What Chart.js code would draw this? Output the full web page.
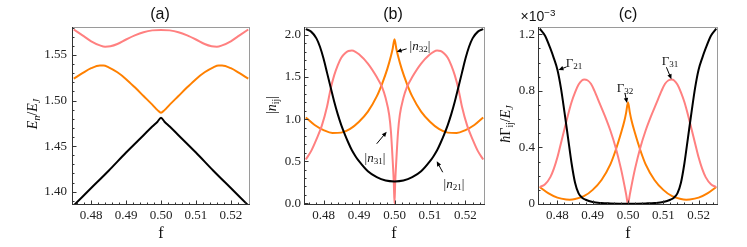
<!DOCTYPE html>
<html><head><meta charset="utf-8">
<script src="https://cdn.jsdelivr.net/npm/chart.js@4.4.0/dist/chart.umd.min.js"></script>
<style>
html,body{margin:0;padding:0;background:#fff;}
#wrap{position:relative;width:747px;height:247px;overflow:hidden;background:#fff;}
canvas{position:absolute;left:0;top:0;}
.t{position:absolute;font-family:"Liberation Serif","Times New Roman",serif;color:#111;white-space:nowrap;line-height:1;transform:translate(-50%,-50%);}
.rot{transform:translate(-50%,-50%) rotate(-90deg);}
.s{font-family:"Liberation Sans",Arial,sans-serif;}
sub{font-size:70%;vertical-align:-0.3em;line-height:0;}
sup{font-size:70%;vertical-align:0.55em;line-height:0;}
</style></head>
<body>
<div id="wrap">
<canvas id="ca" width="747" height="247"></canvas>
<canvas id="cb" width="747" height="247"></canvas>
<canvas id="cc" width="747" height="247"></canvas>

<div class="t s" style="left:160px;top:14px;font-size:16px">(a)</div>
<div class="t s" style="left:393px;top:14px;font-size:16px">(b)</div>
<div class="t s" style="left:628px;top:14px;font-size:16px">(c)</div>

<div class="t" style="left:161px;top:233px;font-size:16px">f</div>
<div class="t" style="left:394px;top:233px;font-size:16px">f</div>
<div class="t" style="left:628px;top:233px;font-size:16px">f</div>

<div class="t rot" style="left:33px;top:114px;font-size:14px"><i>E<sub>n</sub></i>/<i>E<sub>J</sub></i></div>
<div class="t rot" style="left:272px;top:105px;font-size:14px">|<i>n</i><sub>ij</sub>|</div>
<div class="t rot" style="left:506px;top:124px;font-size:14px"><i>ħ</i>Γ<sub>ij</sub>/<i>E<sub>J</sub></i></div>

<div class="t s" style="left:538px;top:16px;font-size:14px">×10<sup>−3</sup></div>

<div class="t" style="left:420px;top:45px;font-size:13px">|<i>n</i><sub>32</sub>|</div>
<div class="t" style="left:375px;top:157px;font-size:13px">|<i>n</i><sub>31</sub>|</div>
<div class="t" style="left:454px;top:183px;font-size:13px">|<i>n</i><sub>21</sub>|</div>

<div class="t" style="left:574px;top:62px;font-size:13px">Γ<sub>21</sub></div>
<div class="t" style="left:625px;top:87px;font-size:13px">Γ<sub>32</sub></div>
<div class="t" style="left:670px;top:60px;font-size:13px">Γ<sub>31</sub></div>
</div>

<script>
// ---------- shared ----------
const fMin = 0.4745, fMax = 0.5255;
const xTickVals = [0.48, 0.49, 0.50, 0.51, 0.52];

// ---------- panel (a): energies E_n/E_J ----------
const aF1 = [0.475,0.48,0.485,0.49,0.495,0.4975,0.499,0.5,0.501,0.5025,0.505,0.51,0.515,0.52,0.525];
const aE1 = [1.385,1.404,1.423,1.443,1.462,1.4715,1.4768,1.481,1.4768,1.4715,1.462,1.443,1.423,1.404,1.385];
const aF2 = [0.475,0.4775,0.48,0.4825,0.4835,0.485,0.4875,0.49,0.4925,0.495,0.4975,0.499,0.5,0.501,0.5025,0.505,0.5075,0.51,0.5125,0.515,0.5165,0.5175,0.52,0.5225,0.525];
const aE2 = [1.524,1.530,1.5355,1.5385,1.5385,1.5365,1.531,1.5235,1.5145,1.505,1.4955,1.4895,1.4865,1.4895,1.4955,1.505,1.5145,1.5235,1.531,1.5365,1.5385,1.5385,1.5355,1.530,1.524];
const aF3 = [0.475,0.4775,0.48,0.4825,0.484,0.4855,0.4875,0.49,0.4925,0.495,0.4975,0.5,0.5025,0.505,0.5075,0.51,0.5125,0.5145,0.516,0.5175,0.52,0.5225,0.525];
const aE3 = [1.578,1.5715,1.565,1.5605,1.559,1.5595,1.562,1.567,1.5715,1.575,1.577,1.5775,1.577,1.575,1.5715,1.567,1.562,1.5595,1.559,1.5605,1.565,1.5715,1.578];
const aYTicks = [1.40, 1.45, 1.50, 1.55];

// ---------- panel (b): |n_ij| ----------
const bF21 = [0.475,0.4765,0.478,0.479,0.48,0.481,0.482,0.483,0.484,0.485,0.486,0.487,0.488,0.489,0.49,0.4925,0.495,0.4975,0.5,0.5025,0.505,0.5075,0.51,0.511,0.512,0.513,0.514,0.515,0.516,0.517,0.518,0.519,0.52,0.521,0.522,0.5235,0.525];
const bN21 = [2.07,2.04,1.96,1.86,1.72,1.55,1.38,1.21,1.06,0.93,0.82,0.72,0.63,0.56,0.50,0.38,0.31,0.27,0.26,0.27,0.31,0.38,0.50,0.56,0.63,0.72,0.82,0.93,1.06,1.21,1.38,1.55,1.72,1.86,1.96,2.04,2.07];
const bF32 = [0.475,0.4775,0.48,0.4825,0.485,0.4875,0.49,0.4925,0.495,0.4965,0.498,0.499,0.4995,0.5,0.5005,0.501,0.502,0.5035,0.505,0.5075,0.51,0.5125,0.515,0.5175,0.52,0.5225,0.525];
const bN32 = [1.02,0.93,0.87,0.835,0.84,0.885,0.97,1.09,1.27,1.42,1.60,1.75,1.84,1.95,1.84,1.75,1.60,1.42,1.27,1.09,0.97,0.885,0.84,0.835,0.87,0.93,1.02];
const bF31 = [0.475,0.4765,0.478,0.4795,0.481,0.482,0.483,0.484,0.485,0.486,0.487,0.488,0.489,0.49,0.4925,0.495,0.4965,0.4975,0.4985,0.499,0.4995,0.4998,0.5,0.5002,0.5005,0.501,0.5015,0.5025,0.5035,0.505,0.5075,0.51,0.511,0.512,0.513,0.514,0.515,0.516,0.517,0.518,0.519,0.5205,0.522,0.5235,0.525];
const bN31 = [0.52,0.62,0.76,0.92,1.15,1.36,1.52,1.64,1.73,1.78,1.81,1.815,1.80,1.77,1.66,1.50,1.38,1.25,1.05,0.85,0.50,0.25,0.0,0.25,0.50,0.85,1.05,1.25,1.38,1.50,1.66,1.77,1.80,1.815,1.81,1.78,1.73,1.64,1.52,1.36,1.15,0.92,0.76,0.62,0.52];
const bYTicks = [0.0, 0.5, 1.0, 1.5, 2.0];

// ---------- panel (c): hbar*Gamma_ij/E_J (x1e-3) ----------
const cF21 = [0.475,0.4765,0.478,0.479,0.48,0.481,0.482,0.483,0.484,0.485,0.486,0.487,0.488,0.49,0.4925,0.495,0.4975,0.5,0.5025,0.505,0.5075,0.51,0.512,0.513,0.514,0.515,0.516,0.517,0.518,0.519,0.52,0.521,0.522,0.5235,0.525];
const cG21 = [1.24,1.19,1.10,1.03,0.95,0.82,0.65,0.47,0.29,0.15,0.075,0.045,0.03,0.014,0.007,0.004,0.002,0.001,0.002,0.004,0.007,0.014,0.03,0.045,0.075,0.15,0.29,0.47,0.65,0.82,0.95,1.03,1.10,1.19,1.24];
const cF32 = [0.475,0.4775,0.48,0.4825,0.4835,0.485,0.4875,0.49,0.4925,0.495,0.4965,0.498,0.499,0.4995,0.5,0.5005,0.501,0.502,0.5035,0.505,0.5075,0.51,0.5125,0.515,0.5165,0.5175,0.52,0.5225,0.525];
const cG32 = [0.12,0.075,0.045,0.032,0.031,0.035,0.055,0.10,0.17,0.28,0.38,0.50,0.59,0.65,0.72,0.65,0.59,0.50,0.38,0.28,0.17,0.10,0.055,0.035,0.031,0.032,0.045,0.075,0.12];
const cF31 = [0.475,0.4765,0.478,0.479,0.48,0.481,0.482,0.483,0.484,0.485,0.486,0.487,0.4876,0.4885,0.4895,0.4905,0.492,0.4935,0.495,0.4965,0.498,0.499,0.4995,0.5,0.5005,0.501,0.502,0.5035,0.505,0.5065,0.508,0.5095,0.5105,0.5115,0.5124,0.513,0.514,0.515,0.516,0.517,0.518,0.519,0.52,0.521,0.522,0.5235,0.525];
const cG31 = [0.12,0.14,0.19,0.25,0.33,0.43,0.53,0.63,0.72,0.79,0.845,0.875,0.88,0.875,0.85,0.80,0.71,0.62,0.52,0.40,0.25,0.13,0.065,0.0,0.065,0.13,0.25,0.40,0.52,0.62,0.71,0.80,0.85,0.875,0.88,0.875,0.845,0.79,0.72,0.63,0.53,0.43,0.33,0.25,0.19,0.14,0.12];
const cYTicks = [0, 0.4, 0.8, 1.2];

// ---------- colours ----------
const BLACK = '#000000', ORANGE = '#FF8000', PINK = '#FF8080';

function series(xs, ys, color) {
  return {
    data: xs.map((x, i) => ({x: x, y: ys[i]})),
    borderColor: color, borderWidth: 2, pointRadius: 0,
    cubicInterpolationMode: 'monotone', fill: false, clip: 0
  };
}

function drawArrow(ctx, x1, y1, x2, y2) {
  const ang = Math.atan2(y2 - y1, x2 - x1);
  const hl = 5, hw = 2.2;
  ctx.beginPath();
  ctx.moveTo(x1, y1);
  ctx.lineTo(x2 - Math.cos(ang) * hl * 0.8, y2 - Math.sin(ang) * hl * 0.8);
  ctx.stroke();
  ctx.beginPath();
  ctx.moveTo(x2, y2);
  ctx.lineTo(x2 - Math.cos(ang) * hl + Math.sin(ang) * hw, y2 - Math.sin(ang) * hl - Math.cos(ang) * hw);
  ctx.lineTo(x2 - Math.cos(ang) * hl - Math.sin(ang) * hw, y2 - Math.sin(ang) * hl + Math.cos(ang) * hw);
  ctx.closePath();
  ctx.fill();
}

function framePlugin(p) {
  return {
    id: 'frame',
    afterDraw(chart) {
      const ctx = chart.ctx, a = chart.chartArea, xs = chart.scales.x, ys = chart.scales.y;
      ctx.save();
      ctx.lineWidth = 1;
      ctx.strokeStyle = '#9a9a9a';
      ctx.beginPath();
      ctx.moveTo(a.left, Math.round(a.top) + 0.5); ctx.lineTo(a.right, Math.round(a.top) + 0.5);
      ctx.moveTo(Math.round(a.right) - 0.5, a.top); ctx.lineTo(Math.round(a.right) - 0.5, a.bottom);
      ctx.stroke();
      ctx.strokeStyle = '#333';
      const L = Math.round(a.left) + 0.5, B = Math.round(a.bottom) - 0.5;
      ctx.beginPath();
      ctx.moveTo(L, a.top); ctx.lineTo(L, a.bottom);
      ctx.moveTo(a.left, B); ctx.lineTo(a.right, B);
      for (let k = 238; k <= 262; k++) {
        const v = k / 500;
        const px = Math.round(xs.getPixelForValue(v)) + 0.5;
        const len = (k % 5 === 0) ? 4 : 2;
        ctx.moveTo(px, B); ctx.lineTo(px, B - len);
      }
      for (let k = p.yMinorFrom; k <= p.yMinorTo; k++) {
        const v = k * p.yMinorStep;
        const py = Math.round(ys.getPixelForValue(v)) + 0.5;
        if (py < a.top + 1 || py > a.bottom - 1) continue;
        const len = (k % p.yMajorEvery === 0) ? 4 : 2;
        ctx.moveTo(L, py); ctx.lineTo(L + len, py);
      }
      ctx.stroke();
      ctx.strokeStyle = '#000'; ctx.fillStyle = '#000'; ctx.lineWidth = 1;
      (p.arrows || []).forEach(ar => {
        const tx = xs.getPixelForValue(ar.f), ty = ys.getPixelForValue(ar.v);
        drawArrow(ctx, tx + ar.dx, ty + ar.dy, tx, ty);
      });
      ctx.restore();
    }
  };
}

function makeChart(id, datasets, o) {
  const W = 747, H = 247;
  const yW = 40, xH = 20;
  return new Chart(document.getElementById(id), {
    type: 'line',
    data: {datasets: datasets},
    options: {
      responsive: false, animation: false, events: [],
      plugins: {legend: {display: false}, tooltip: {enabled: false}, title: {display: false}},
      layout: {padding: {left: o.left - yW, right: W - o.right, top: o.top, bottom: H - o.bottom - xH}},
      scales: {
        x: {
          type: 'linear', min: fMin, max: fMax,
          afterBuildTicks: s => { s.ticks = xTickVals.map(v => ({value: v})); },
          afterFit: s => { s.height = xH; },
          grid: {display: false, drawTicks: false}, border: {display: false},
          ticks: {font: {family: 'Liberation Serif', size: 13}, color: '#222', padding: 3,
                  maxRotation: 0, autoSkip: false, callback: v => Number(v).toFixed(2)}
        },
        y: {
          type: 'linear', min: o.yMin, max: o.yMax,
          afterBuildTicks: s => { s.ticks = o.yTicks.map(v => ({value: v})); },
          afterFit: s => { s.width = yW; },
          grid: {display: false, drawTicks: false}, border: {display: false},
          ticks: {font: {family: 'Liberation Serif', size: 13}, color: '#222', padding: o.yPad,
                  autoSkip: false, callback: o.yFmt}
        }
      }
    },
    plugins: [framePlugin(o)]
  });
}

makeChart('ca', [series(aF1, aE1, BLACK), series(aF2, aE2, ORANGE), series(aF3, aE3, PINK)], {
  left: 72, right: 250, top: 27, bottom: 205,
  yMin: 1.3854, yMax: 1.5807, yTicks: aYTicks, yPad: 5, yFmt: v => Number(v).toFixed(2),
  yMinorStep: 0.01, yMinorFrom: 138, yMinorTo: 158, yMajorEvery: 5, arrows: []
});

makeChart('cb', [series(bF21, bN21, BLACK), series(bF31, bN31, PINK), series(bF32, bN32, ORANGE)], {
  left: 304, right: 485, top: 27, bottom: 205,
  yMin: -0.02, yMax: 2.095, yTicks: bYTicks, yPad: 3, yFmt: v => Number(v).toFixed(1),
  yMinorStep: 0.1, yMinorFrom: 0, yMinorTo: 20, yMajorEvery: 5,
  arrows: [
    {f: 0.5006, v: 1.80, dx: 10, dy: -3},
    {f: 0.4978, v: 0.85, dx: -10, dy: 12},
    {f: 0.5119, v: 0.50, dx: 6, dy: 11}
  ]
});

makeChart('cc', [series(cF21, cG21, BLACK), series(cF31, cG31, PINK), series(cF32, cG32, ORANGE)], {
  left: 538, right: 718, top: 27, bottom: 205,
  yMin: -0.007, yMax: 1.2516, yTicks: cYTicks, yPad: 3, yFmt: v => (v === 0 ? '0' : Number(v).toFixed(1)),
  yMinorStep: 0.1, yMinorFrom: 0, yMinorTo: 12, yMajorEvery: 4,
  arrows: [
    {f: 0.4803, v: 0.948, dx: 8, dy: -3},
    {f: 0.4997, v: 0.714, dx: -2, dy: -10},
    {f: 0.5123, v: 0.882, dx: -5, dy: -12}
  ]
});
</script>
</body></html>
